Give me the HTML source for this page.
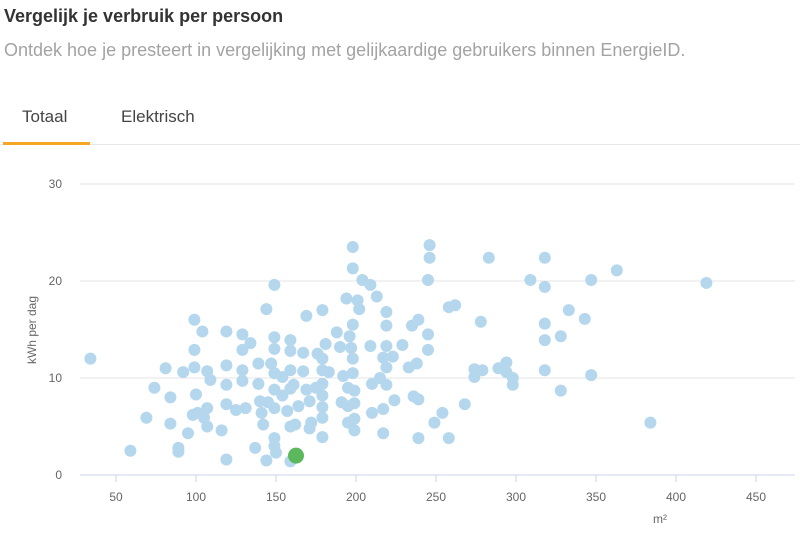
<!DOCTYPE html>
<html><head><meta charset="utf-8"><style>
body{margin:0;background:#fff;font-family:"Liberation Sans",sans-serif;}
.wrap{position:relative;width:800px;height:536px;overflow:hidden}
h1{position:absolute;left:4px;top:6px;margin:0;font-size:18px;font-weight:bold;color:#333}
.sub{position:absolute;left:4px;top:40px;font-size:18px;color:#a3a3a3}
.tab{position:absolute;top:107px;font-size:17px;color:#444}
</style></head><body>
<div class="wrap">
<h1>Vergelijk je verbruik per persoon</h1>
<div class="sub">Ontdek hoe je presteert in vergelijking met gelijkaardige gebruikers binnen EnergieID.</div>
<div class="tab" style="left:22px">Totaal</div>
<div class="tab" style="left:121px">Elektrisch</div>
<div style="position:absolute;left:0;top:144px;width:800px;height:1px;background:#e6e6e6"></div>
<div style="position:absolute;left:3px;top:142px;width:87px;height:3px;background:#f5a623"></div>
<svg id="chart" width="800" height="536" style="position:absolute;left:0;top:0"></svg>
</div>
<script>
const xTicks=[50,100,150,200,250,300,350,400,450];
const yTicks=[0,10,20,30];
const areaM2=[34,59,69,74,81,84,84,89,89,92,95,98,99,99,99,100,101,104,105,107,107,107,109,116,119,119,119,119,119,125,129,129,129,129,131,134,137,139,139,140,141,142,144,144,145,147,149,149,149,149,149,149,149,149,150,154,154,157,159,159,159,159,159,159,161,162,164,167,167,169,169,171,171,172,175,176,179,179,179,179,179,179,179,179,181,183,188,190,191,192,194,195,195,195,196,197,198,198,198,198,198,199,199,199,199,201,202,204,209,209,210,210,213,215,217,217,217,219,219,219,219,219,223,224,229,233,235,236,238,239,239,239,245,245,245,246,246,249,254,258,258,262,268,274,274,278,279,283,289,294,294,298,298,309,318,318,318,318,318,328,328,333,343,347,347,363,384,419];
const kwhPerDay=[12,2.5,5.9,9,11,8,5.3,2.8,2.4,10.6,4.3,6.2,16,12.9,11.1,8.3,6.4,14.8,5.9,5,6.9,10.7,9.8,4.6,1.6,7.3,9.3,11.3,14.8,6.7,14.5,12.9,10.8,9.7,6.9,13.6,2.8,9.4,11.5,7.6,6.4,5.2,1.5,17.1,7.5,11.5,19.6,14.2,13,10.5,8.8,6.9,3.8,3,2.3,10.1,8.2,6.6,13.9,12.8,10.8,8.9,5,1.4,9.3,5.2,7.1,12.6,10.7,8.8,16.4,4.8,7.6,5.4,9,12.5,7,17,12,10.8,9.4,8.2,5.9,3.9,13.5,10.6,14.7,13.2,7.5,10.2,18.2,9,7.1,5.4,14.3,13.1,23.5,21.3,15.5,12,10.5,8.7,7.4,5.8,4.6,18,17.1,20.1,19.6,13.3,9.4,6.4,18.4,10,12.1,6.8,4.3,16.8,15.4,13.3,11.1,9.3,12.2,7.7,13.4,11.1,15.4,8.1,11.5,16,3.8,7.8,20.1,14.5,12.9,23.7,22.4,5.4,6.4,17.3,3.8,17.5,7.3,10.9,10.1,15.8,10.8,22.4,11,11.6,10.6,10,9.3,20.1,22.4,19.4,15.6,13.9,10.8,14.3,8.7,17,16.1,20.1,10.3,21.1,5.4,19.8];
const userPoint=[162.5,2];
const NS="http://www.w3.org/2000/svg";
const svg=document.getElementById('chart');
const X=v=>36+1.6*v, Y=v=>475-9.7*v;
function mk(t,a){const e=document.createElementNS(NS,t);for(const k in a)e.setAttribute(k,a[k]);svg.appendChild(e);return e;}
yTicks.forEach(t=>{
 const l=mk('line',{x1:80,x2:795,y1:Y(t),y2:Y(t),stroke:t===0?'#ccd6eb':'#e6e6e6','stroke-width':1});
 
 
 const tx=mk('text',{x:62,y:Y(t)+4,'text-anchor':'end','font-size':12,fill:'#666','font-family':'Liberation Sans, sans-serif'});
 tx.textContent=t;
 
 
});
xTicks.forEach(t=>{
 const l=mk('line',{x1:X(t),x2:X(t),y1:475,y2:482,stroke:'#ccd6eb','stroke-width':1});
 
 
 const tx=mk('text',{x:X(t),y:501,'text-anchor':'middle','font-size':12,fill:'#666','font-family':'Liberation Sans, sans-serif'});
 tx.textContent=t;
 
 
});
const yt=mk('text',{x:0,y:0,transform:'translate(36,330) rotate(-90)','text-anchor':'middle','font-size':12,fill:'#666','font-family':'Liberation Sans, sans-serif'});
yt.textContent='kWh per dag';


const xt=mk('text',{x:660,y:523,'text-anchor':'middle','font-size':12,fill:'#666','font-family':'Liberation Sans, sans-serif'});
xt.textContent='m²';


areaM2.forEach((a,i)=>{
 const c=mk('circle',{cx:X(a),cy:Y(kwhPerDay[i]),r:6,fill:'#b5d7ee'});
 
 
});
const u=mk('circle',{cx:X(userPoint[0]),cy:Y(userPoint[1]),r:8,fill:'#5cb85c'});


</script>
</body></html>
